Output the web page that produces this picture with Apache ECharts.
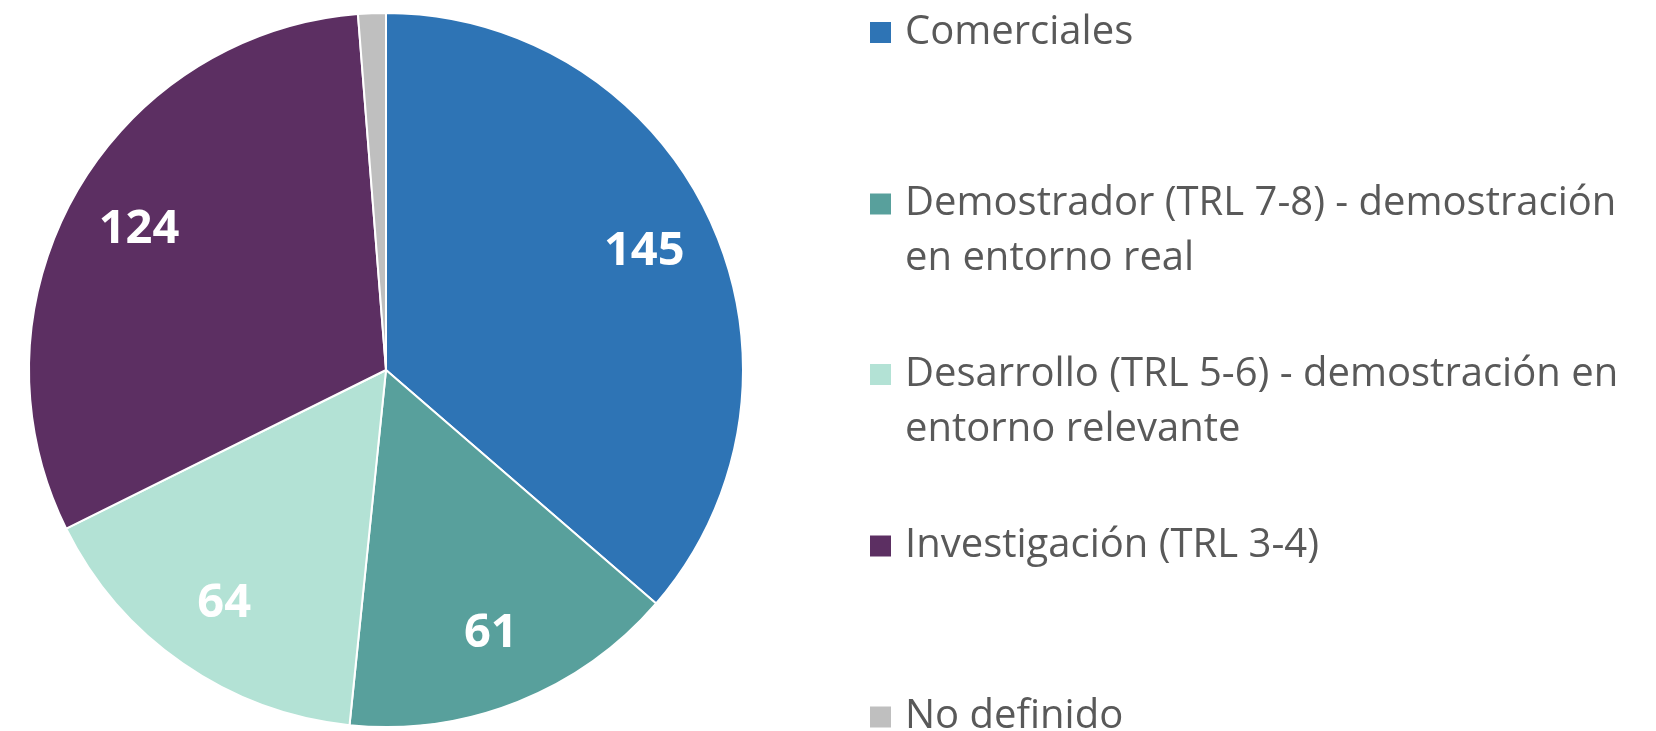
<!doctype html>
<meta charset="utf-8">
<style>
  html, body { margin: 0; padding: 0; width: 100%; height: 100%; background: #fff; }
  #chart { width: 1656px; height: 731px; }
</style>
<script src="https://cdn.jsdelivr.net/npm/echarts@6/dist/echarts.min.js"></script>

<div id="chart"></div>

<script>
  // categories (clockwise from 12 o'clock) and values
  const categories = [
    'Comerciales',
    'Demostrador (TRL 7-8) - demostración en entorno real',
    'Desarrollo (TRL 5-6) - demostración en entorno relevante',
    'Investigación (TRL 3-4)',
    'No definido'
  ];
  const values = [145, 61, 64, 124, 5];
  // how the legend text wraps
  const legendText = [
    'Comerciales',
    'Demostrador (TRL 7-8) - demostración\nen entorno real',
    'Desarrollo (TRL 5-6) - demostración en\nentorno relevante',
    'Investigación (TRL 3-4)',
    'No definido'
  ];
  const colors = ['#2E74B5', '#58A09C', '#B3E2D5', '#5C2F62', '#BFBFBF'];
  const showLabel = [true, true, true, true, false];

  const legendCenters = [32.5, 204, 374.5, 546, 717];
  const LINE = 55;

  let chart = echarts.init(document.getElementById('chart'));

  const legends = categories.map((name, i) => {
    const lines = legendText[i].split('\n').length;
    return {
      orient: 'vertical',
      left: 870,
      top: legendCenters[i] - (lines > 1 ? LINE * 1.5 : LINE / 2),
      padding: 0,
      itemWidth: 21,
      itemHeight: 21,
      icon: 'rect',
      selectedMode: false,
      itemStyle: { borderWidth: 0 },
      data: [name],
      // an empty first line keeps the marker level with the first text line
      formatter: () => (lines > 1 ? '\n' : '') + legendText[i],
      textStyle: {
        fontFamily: "'Open Sans', sans-serif",
        fontSize: 40,
        color: '#595959',
        lineHeight: LINE,
        padding: [0, 0, 0, 9]
      }
    };
  });

  const pieData = categories.map((name, i) => ({
    name: name,
    value: values[i],
    itemStyle: { color: colors[i] }
  }));

  chart.setOption({
    animation: false,
    legend: legends,
    series: [
      {
        type: 'pie',
        center: [386, 370],
        radius: [0, 357],
        startAngle: 90,
        clockwise: true,
        avoidLabelOverlap: false,
        silent: true,
        itemStyle: { borderColor: '#fff', borderWidth: 2 },
        label: { show: false },
        labelLine: { show: false },
        data: pieData
      },
      {
        // transparent ring that only carries the value labels
        type: 'pie',
        center: [386, 370],
        radius: [205, 357],
        startAngle: 90,
        clockwise: true,
        avoidLabelOverlap: false,
        silent: true,
        legendHoverLink: false,
        itemStyle: { color: 'transparent', borderWidth: 0 },
        label: {
          show: true,
          position: 'inside',
          formatter: p => showLabel[p.dataIndex] ? String(p.value) : '',
          color: '#fff',
          fontFamily: "'Open Sans', sans-serif",
          fontWeight: 'bold',
          fontSize: 47
        },
        labelLine: { show: false },
        data: categories.map((name, i) => ({ name: name, value: values[i] }))
      }
    ]
  });
</script>
